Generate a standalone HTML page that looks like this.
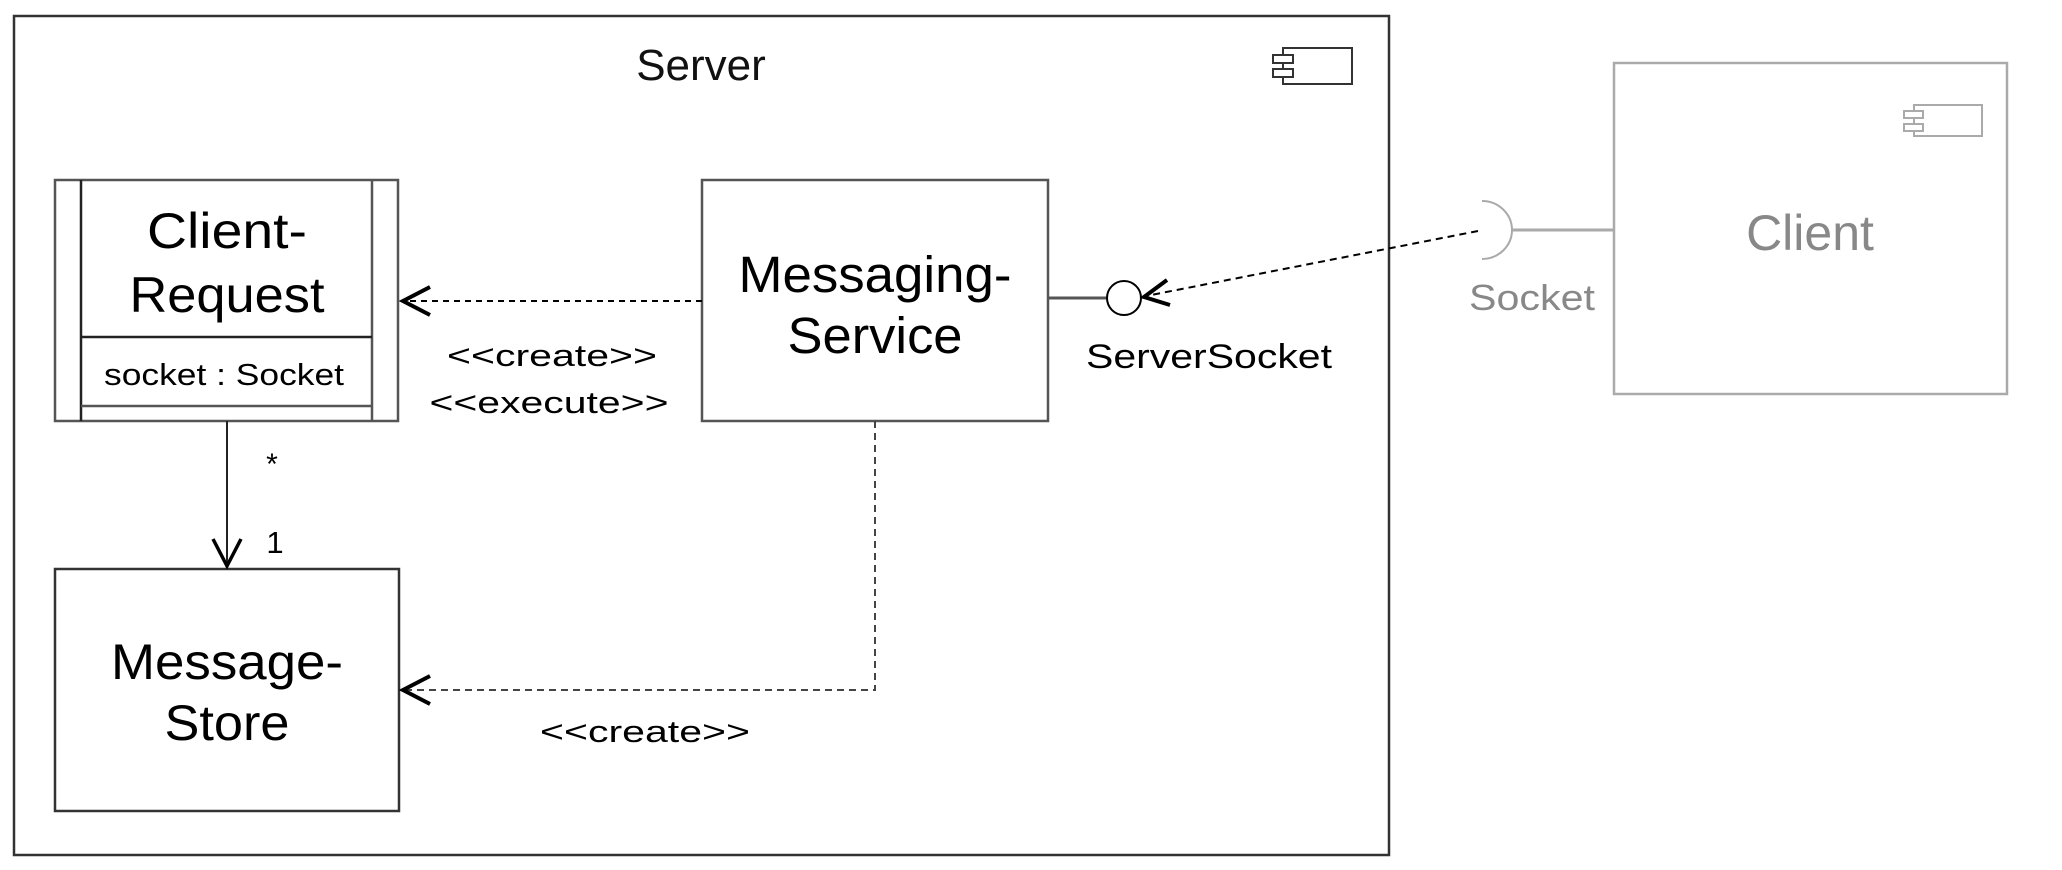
<!DOCTYPE html>
<html><head><style>
html,body{margin:0;padding:0;background:#fff;}
svg{display:block;}
text{font-family:"Liberation Sans",Arial,sans-serif;}
</style></head><body>
<svg width="2062" height="870" viewBox="0 0 2062 870" xmlns="http://www.w3.org/2000/svg">
<rect x="0" y="0" width="2062" height="870" fill="#fff"/>
<!-- Server frame -->
<rect x="14" y="16" width="1375" height="839" fill="none" stroke="#333" stroke-width="2.5"/>
<text x="701" y="80" font-size="44" text-anchor="middle" fill="#111">Server</text>
<!-- server component icon -->
<rect x="1283" y="48" width="69" height="36" fill="none" stroke="#333" stroke-width="2"/>
<rect x="1273" y="55" width="20" height="8" fill="#fff" stroke="#333" stroke-width="2"/>
<rect x="1273" y="69" width="20" height="8" fill="#fff" stroke="#333" stroke-width="2"/>

<!-- Client-Request -->
<rect x="55" y="180" width="343" height="241" fill="none" stroke="#555" stroke-width="2.5"/>
<line x1="81" y1="180" x2="81" y2="421" stroke="#222" stroke-width="2.5"/>
<line x1="372" y1="180" x2="372" y2="421" stroke="#555" stroke-width="2.5"/>
<line x1="81" y1="337" x2="372" y2="337" stroke="#222" stroke-width="2.5"/>
<line x1="81" y1="406" x2="372" y2="406" stroke="#555" stroke-width="2.5"/>
<text x="227" y="248" font-size="50" text-anchor="middle" fill="#000" textLength="160" lengthAdjust="spacingAndGlyphs">Client-</text>
<text x="227" y="312" font-size="50" text-anchor="middle" fill="#000" textLength="195" lengthAdjust="spacingAndGlyphs">Request</text>
<text x="224" y="385" font-size="31" text-anchor="middle" fill="#000" textLength="240" lengthAdjust="spacingAndGlyphs">socket : Socket</text>

<!-- Messaging-Service -->
<rect x="702" y="180" width="346" height="241" fill="none" stroke="#555" stroke-width="2.5"/>
<text x="875" y="292" font-size="51" text-anchor="middle" fill="#000" textLength="273" lengthAdjust="spacingAndGlyphs">Messaging-</text>
<text x="875" y="353" font-size="51" text-anchor="middle" fill="#000" textLength="175" lengthAdjust="spacingAndGlyphs">Service</text>

<!-- Message-Store -->
<rect x="55" y="569" width="344" height="242" fill="none" stroke="#333" stroke-width="2.5"/>
<text x="227" y="679" font-size="50" text-anchor="middle" fill="#000" textLength="232" lengthAdjust="spacingAndGlyphs">Message-</text>
<text x="227" y="740" font-size="50" text-anchor="middle" fill="#000" textLength="125" lengthAdjust="spacingAndGlyphs">Store</text>

<!-- dependency Messaging -> ClientRequest -->
<line x1="702" y1="301" x2="403" y2="301" stroke="#000" stroke-width="2" stroke-dasharray="6,5"/>
<polyline points="430,287 403,301 430,315" fill="none" stroke="#000" stroke-width="4"/>
<text x="552" y="366" font-size="31" text-anchor="middle" fill="#000" textLength="210" lengthAdjust="spacingAndGlyphs">&lt;&lt;create&gt;&gt;</text>
<text x="549" y="413" font-size="31" text-anchor="middle" fill="#000" textLength="239" lengthAdjust="spacingAndGlyphs">&lt;&lt;execute&gt;&gt;</text>

<!-- association -->
<line x1="227" y1="421" x2="227" y2="566" stroke="#222" stroke-width="2"/>
<polyline points="213,539 227,566 241,539" fill="none" stroke="#000" stroke-width="3.5"/>
<text x="272" y="474" font-size="30" text-anchor="middle" fill="#000">*</text>
<text x="275" y="553" font-size="31" text-anchor="middle" fill="#000">1</text>

<!-- dependency Messaging -> MessageStore -->
<polyline points="875,421 875,690 402,690" fill="none" stroke="#444" stroke-width="2" stroke-dasharray="7,5"/>
<polyline points="430,676 403,690 430,704" fill="none" stroke="#000" stroke-width="4"/>
<text x="645" y="742" font-size="31" text-anchor="middle" fill="#000" textLength="210" lengthAdjust="spacingAndGlyphs">&lt;&lt;create&gt;&gt;</text>

<!-- lollipop -->
<line x1="1048" y1="298" x2="1108" y2="298" stroke="#555" stroke-width="3"/>
<circle cx="1124" cy="298" r="17" fill="#fff" stroke="#000" stroke-width="2"/>
<text x="1209" y="368" font-size="34" text-anchor="middle" fill="#000" textLength="246" lengthAdjust="spacingAndGlyphs">ServerSocket</text>

<!-- dashed from socket to lollipop -->
<line x1="1478" y1="231" x2="1146" y2="296" stroke="#000" stroke-width="2" stroke-dasharray="7,5"/>
<polyline points="1167,280 1144,297 1170,305" fill="none" stroke="#000" stroke-width="4"/>

<!-- Client -->
<rect x="1614" y="63" width="393" height="331" fill="none" stroke="#aaa" stroke-width="2.5"/>
<rect x="1914" y="105" width="68" height="31" fill="none" stroke="#aaa" stroke-width="2"/>
<rect x="1904" y="111" width="19" height="7" fill="#fff" stroke="#aaa" stroke-width="2"/>
<rect x="1904" y="124" width="19" height="7" fill="#fff" stroke="#aaa" stroke-width="2"/>
<text x="1810" y="250" font-size="50" text-anchor="middle" fill="#888">Client</text>
<path d="M1482,201 A30,29 0 0 1 1482,259" fill="none" stroke="#aaa" stroke-width="2"/>
<line x1="1511" y1="230" x2="1614" y2="230" stroke="#aaa" stroke-width="3"/>
<text x="1532" y="310" font-size="36" text-anchor="middle" fill="#888" textLength="126" lengthAdjust="spacingAndGlyphs">Socket</text>
</svg>
</body></html>
